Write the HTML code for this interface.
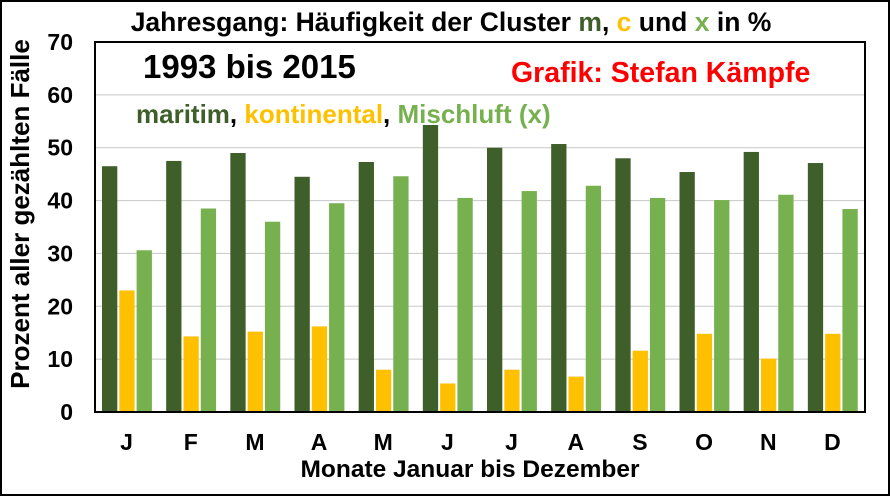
<!DOCTYPE html>
<html><head><meta charset="utf-8"><style>
html,body{margin:0;padding:0;background:#fff}
svg{display:block;font-family:"Liberation Sans",Arial,sans-serif;font-weight:bold}
</style></head><body>
<svg id="c" width="890" height="496" viewBox="0 0 890 496">
<rect x="1" y="1" width="888" height="494" fill="#fff" stroke="#000" stroke-width="2"/>
<g id="grid"></g>
<g id="bars"></g>
<rect x="95" y="42" width="770" height="370" fill="none" stroke="#000" stroke-width="2"/>
<g id="yt"></g><g id="xt"></g>
<text x="451" y="31" font-size="26.5" text-anchor="middle">Jahresgang: Häufigkeit der Cluster <tspan fill="#3f5f2a">m</tspan>, <tspan fill="#ffc000">c</tspan> und <tspan fill="#76b04f">x</tspan> in %</text>
<text x="143" y="78" font-size="33">1993 bis 2015</text>
<text x="511" y="82" font-size="28.5" fill="#ff0000">Grafik: Stefan Kämpfe</text>
<text x="136" y="123" font-size="26"><tspan fill="#3f5f2a">maritim</tspan>, <tspan fill="#ffc000">kontinental</tspan>, <tspan fill="#76b04f">Mischluft (x)</tspan></text>
<text x="470" y="477" font-size="24.5" text-anchor="middle">Monate Januar bis Dezember</text>
<text transform="translate(29,214) rotate(-90)" font-size="26" text-anchor="middle">Prozent aller gezählten Fälle</text>
</svg>
<script>
const months=["J","F","M","A","M","J","J","A","S","O","N","D"];
const maritim=[46.5,47.5,49,44.5,47.3,54.3,50,50.7,48,45.4,49.2,47.1];
const kontinental=[23,14.3,15.2,16.2,8,5.4,8,6.7,11.6,14.8,10.1,14.8];
const mischluft=[30.6,38.5,36,39.5,44.6,40.5,41.8,42.8,40.5,40.1,41.1,38.4];
const yTicks=[0,10,20,30,40,50,60,70];
const NS="http://www.w3.org/2000/svg";
const x0=95,x1=865,yb=412,yt=42,ymax=70;
const y=v=>yb-(v/ymax)*(yb-yt);
const gw=(x1-x0)/12;
function mk(t,a,p){const e=document.createElementNS(NS,t);for(const k in a)e.setAttribute(k,a[k]);document.getElementById(p).appendChild(e);return e;}
yTicks.forEach(v=>{
  if(v>0&&v<70){const l=mk("line",{x1:x0,x2:x1,y1:y(v),y2:y(v),stroke:"#c8c8c8","stroke-width":1},"grid");
  
  }
  const t=mk("text",{x:73,y:y(v)+8,"font-size":23,"text-anchor":"end"},"yt");t.textContent=v;
  
  
});
const series=[[maritim,"#3f5f2a","maritim"],[kontinental,"#ffc000","kontinental"],[mischluft,"#76b04f","mischluft"]];
months.forEach((m,i)=>{
  const gx=x0+i*gw;
  series.forEach((s,j)=>{
    const bx=gx+7+j*17.3;
    const r=mk("rect",{x:bx,y:y(s[0][i]),width:15.3,height:yb-y(s[0][i]),fill:s[1]},"bars");
    
    
  });
  const t=mk("text",{x:gx+gw/2-0.5,y:450,"font-size":23,"text-anchor":"middle"},"xt");t.textContent=m;
  
  
});
</script>
</body></html>
